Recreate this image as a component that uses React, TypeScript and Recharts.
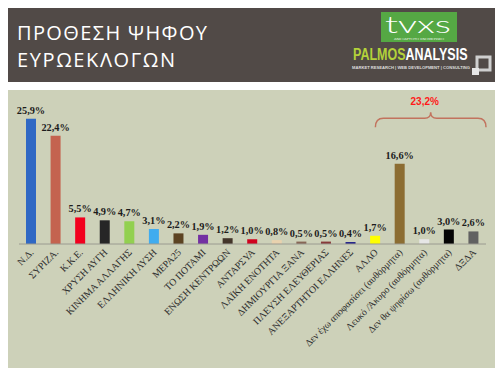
import { BarChart, Bar, XAxis, YAxis, Cell, LabelList, ReferenceLine } from "recharts";

const categories = [
  "N.Δ.",
  "ΣΥΡΙΖΑ.",
  "Κ.Κ.Ε.",
  "ΧΡΥΣΗ ΑΥΓΗ",
  "ΚΙΝΗΜΑ ΑΛΛΑΓΗΣ",
  "ΕΛΛΗΝΙΚΗ ΛΥΣΗ",
  "ΜΕΡΑ25",
  "ΤΟ ΠΟΤΑΜΙ",
  "ΕΝΩΣΗ ΚΕΝΤΡΩΩΝ",
  "ΑΝΤΑΡΣΥΑ",
  "ΛΑΪΚΗ ΕΝΟΤΗΤΑ",
  "ΔΗΜΙΟΥΡΓΙΑ ΞΑΝΑ",
  "ΠΛΕΥΣΗ ΕΛΕΥΘΕΡΙΑΣ",
  "ΑΝΕΞΑΡΤΗΤΟΙ ΕΛΛΗΝΕΣ",
  "ΑΛΛΟ",
  "Δεν έχω αποφασίσει (αυθόρμητα)",
  "Λευκό /Άκυρο (αυθόρμητα)",
  "Δεν θα ψηφίσω (αυθόρμητα)",
  "ΔΞΔΑ",
];

const values = [25.9, 22.4, 5.5, 4.9, 4.7, 3.1, 2.2, 1.9, 1.2, 1.0, 0.8, 0.5, 0.5, 0.4, 1.7, 16.6, 1.0, 3.0, 2.6];

const barColors = [
  "#2f68c4", "#c4634f", "#f2001e", "#262626", "#92d050", "#40acef", "#5c4322",
  "#7330a2", "#43352a", "#d0021f", "#e9d2ae", "#876656", "#873a3a", "#1a1a88",
  "#ffff00", "#8c6d32", "#e6e6e6", "#050505", "#616161",
];

// the bracket groups the last four answers
const groupStart = 15;
const groupLabelFrom = "ΑΛΛΟ";

const data = categories.map((name, i) => ({ name, value: values[i] }));
const groupTotal = values.slice(groupStart).reduce((a, b) => a + b, 0);

const fmt = (v: number) => `${v.toFixed(1).replace(".", ",")}%`;

function CategoryTick(props: any) {
  const { x, y, payload } = props;
  return (
    <g transform={`translate(${x + 3},${y + 1})`}>
      <text
        textAnchor="end"
        transform="rotate(-45)"
        fontFamily="'Liberation Serif', serif"
        fontSize={9.8}
        fill="#2e2e2e"
      >
        {payload.value}
      </text>
    </g>
  );
}

function Brace(props: any) {
  const { x1, y1, x2 } = props;
  const band = (x2 - x1) / (categories.length - 1 - categories.indexOf(groupLabelFrom));
  const L = x1;
  const R = x2 + band / 2;
  const M = (L + R) / 2;
  const t = y1;
  const d = `M${L},${t + 9} Q${L},${t} ${L + 8},${t} L${M - 6},${t} Q${M},${t} ${M},${t - 6} Q${M},${t} ${M + 6},${t} L${R - 8},${t} Q${R},${t} ${R},${t + 9}`;
  return (
    <g>
      <path d={d} fill="none" stroke="#c2735e" strokeWidth={1.5} />
      <text
        x={M - 6}
        y={t - 13}
        textAnchor="middle"
        fontFamily="'Liberation Sans', Arial, sans-serif"
        fontWeight="bold"
        fontSize={10}
        fill="#ff1a1a"
      >
        {fmt(groupTotal)}
      </text>
    </g>
  );
}

function Header() {
  return (
    <svg width={504} height={90} style={{ position: "absolute", left: 0, top: 0 }}>
      <rect x={8} y={8} width={487} height={74} fill="#514a47" />
      <text x={17} y={40} fill="#fff" fontFamily="'Open Sans', 'DejaVu Sans', sans-serif" fontSize={20}
        textLength={190} lengthAdjust="spacing">
        ΠΡΟΘΕΣΗ ΨΗΦΟΥ
      </text>
      <text x={17} y={67} fill="#fff" fontFamily="'Open Sans', 'DejaVu Sans', sans-serif" fontSize={20}
        textLength={158} lengthAdjust="spacing">
        ΕΥΡΩΕΚΛΟΓΩΝ
      </text>
      <rect x={381} y={12} width={76} height={30} fill="#55a844" />
      <text x={385} y={33} fill="#fff" fontFamily="Lato, 'Open Sans', sans-serif" fontWeight={300} fontSize={23}
        textLength={66} lengthAdjust="spacingAndGlyphs">
        tvxs
      </text>
      <text x={394} y={39.5} fill="#e8f4e4" fontFamily="'DejaVu Sans', sans-serif" fontSize={2.6}
        textLength={50} lengthAdjust="spacingAndGlyphs">
        ΑΝΕΞΑΡΤΗΤΗ ΕΝΗΜΕΡΩΣΗ
      </text>
      <text transform="translate(353,60) scale(0.735,1)" fontFamily="'Liberation Sans', sans-serif"
        fontWeight="bold" fontSize={17}>
        <tspan fill="#b4d23a">PALMOS</tspan>
        <tspan fill="#ffffff">ANALYSIS</tspan>
      </text>
      <text x={352} y={69} fill="#ddd" fontFamily="'Liberation Sans', sans-serif" fontWeight="bold" fontSize={4}
        textLength={118} lengthAdjust="spacingAndGlyphs">
        MARKET RESEARCH | WEB DEVELOPMENT | CONSULTING
      </text>
      <rect x={477} y={57} width={13} height={13} fill="none" stroke="#cfcfcf" strokeWidth={3} />
      <rect x={472} y={68} width={7} height={7} fill="#e6e6e6" />
    </svg>
  );
}

export default function App() {
  return (
    <div style={{ position: "fixed", left: 0, top: 0, width: 504, height: 378, background: "#fff", overflow: "hidden" }}>
      <Header />
      <div style={{ position: "absolute", left: 8, top: 90, width: 487, height: 278, background: "#cdd1b9" }} />
      <div style={{ position: "absolute", left: 0, top: 0 }}>
        <BarChart width={504} height={378} data={data} margin={{ top: 99, right: 18, left: 19, bottom: 0 }}>
          <YAxis hide domain={[0, 30]} />
          <XAxis
            dataKey="name"
            interval={0}
            height={134}
            tickLine={false}
            axisLine={{ stroke: "#9a9a90" }}
            tick={<CategoryTick />}
          />
          <Bar dataKey="value" barSize={10} isAnimationActive={false}>
            {data.map((d, i) => (
              <Cell key={d.name} fill={barColors[i]} />
            ))}
            <LabelList
              dataKey="value"
              position="top"
              offset={5}
              formatter={(v: any) => fmt(Number(v))}
              style={{ fontFamily: "'Liberation Serif', serif", fontWeight: "bold", fontSize: 10.3, fill: "#1c1c1c" }}
            />
          </Bar>
          <ReferenceLine
            segment={[
              { x: groupLabelFrom, y: 26 },
              { x: categories[categories.length - 1], y: 26 },
            ]}
            shape={(p: any) => <Brace {...p} />}
          />
        </BarChart>
      </div>
    </div>
  );
}
